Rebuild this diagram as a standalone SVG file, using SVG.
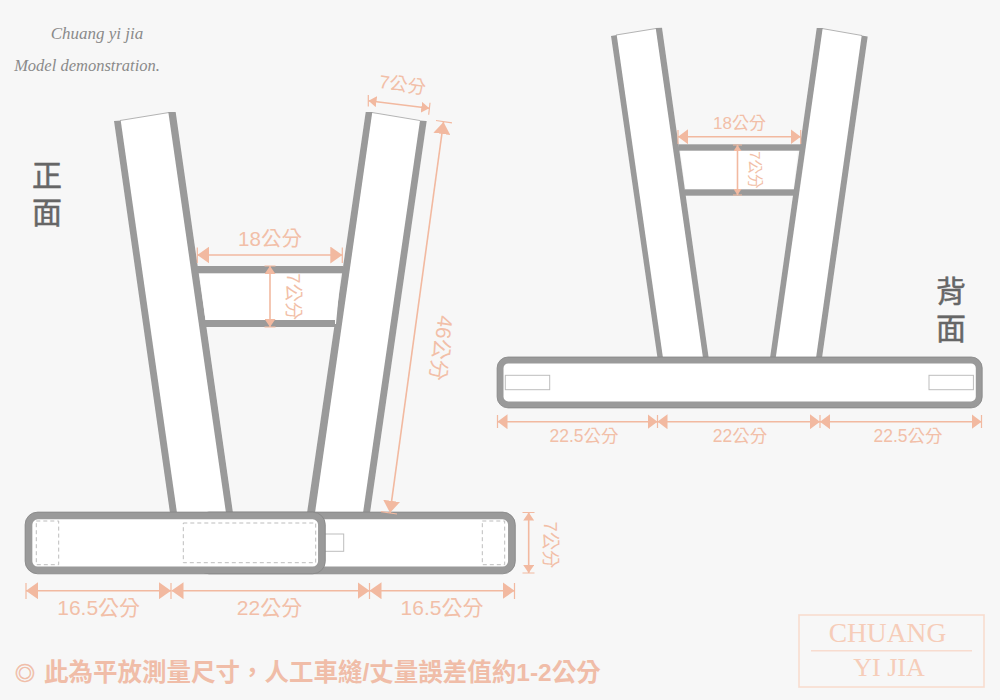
<svg xmlns="http://www.w3.org/2000/svg" width="1000" height="700" viewBox="0 0 1000 700">
<style>
.b{fill:#9a9a9a}
.w{fill:#fff}
.e{fill:none;stroke:#b4b4b4;stroke-width:1}
.belt{fill:#fff;stroke:#9a9a9a}
.edge{fill:none;stroke:#858585;stroke-width:.8}
.dash{fill:#fff;stroke:#bdbdbd;stroke-width:1;stroke-dasharray:4 3}
.slot{fill:#fff;stroke:#bdbdbd;stroke-width:1}
.d{fill:none;stroke:#f2b9a0;stroke-width:1.600}
.t{fill:none;stroke:#f2b9a0;stroke-width:1.200}
text{font-family:"Liberation Sans","Noto Sans CJK TC",sans-serif}
.l{fill:#f2bfa8;text-anchor:middle}
.side{fill:#666;stroke:#666;stroke-width:.5;font-size:30px;text-anchor:middle}
.script{fill:#8a8a8a;font-family:"Liberation Serif",serif;font-style:italic;text-anchor:middle}
.logo{fill:#f6cdb9;font-family:"Liberation Serif",serif;text-anchor:middle}
</style>
<defs>
<marker id="aL" markerUnits="userSpaceOnUse" markerWidth="12" markerHeight="17" refX="12" refY="8.500" orient="auto-start-reverse"><path d="M0 0L12 8.500L0 17Z" fill="#f2b9a0"/></marker>
<marker id="aM" markerUnits="userSpaceOnUse" markerWidth="10" markerHeight="15" refX="10" refY="7.500" orient="auto-start-reverse"><path d="M0 0L10 7.500L0 15Z" fill="#f2b9a0"/></marker>
<marker id="aS" markerUnits="userSpaceOnUse" markerWidth="8" markerHeight="11" refX="8" refY="5.500" orient="auto-start-reverse"><path d="M0 0L8 5.500L0 11Z" fill="#f2b9a0"/></marker>
<marker id="aT" markerUnits="userSpaceOnUse" markerWidth="6" markerHeight="8" refX="6" refY="4" orient="auto-start-reverse"><path d="M0 0L6 4L0 8Z" fill="#f2b9a0"/></marker>
</defs>
<rect width="1000" height="700" fill="#f7f7f7"/>

<g id="front-strap-left">
<path class="w" d="M114 121L176 112L233 513L171 513Z"/>
<path class="e" d="M120 120.500L169 112.500"/>
<path class="b" d="M114 121L120.700 120.500L177 513L170 513Z"/>
<path class="b" d="M168.300 112L175.700 112L233 513L226 513Z"/>
</g>
<g id="front-strap-right">
<path class="w" d="M365.700 112L426.700 120.500L370 513L307 513Z"/>
<path class="e" d="M372 112.500L420 120.500"/>
<path class="b" d="M365.700 112L372.300 112L315 513L307 513Z"/>
<path class="b" d="M420 120.500L426.700 121L370 513L363 513Z"/>
</g>
<g id="front-bridge">
<path class="w" d="M199 270L341 270L336 324L206 324Z"/>
<rect class="b" x="197" y="266" width="146" height="7.300"/>
<rect class="b" x="205" y="320" width="130" height="7"/>
</g>
<g id="front-belt-back">
<rect class="belt" x="200" y="515.700" width="311.700" height="54.500" rx="9" stroke-width="7.300"/>
<rect class="edge" x="196.400" y="512.100" width="318.900" height="61.700" rx="12.600"/>
<rect class="dash" x="482.300" y="521" width="22.400" height="43.700"/>
<rect class="slot" x="320" y="534" width="23.700" height="17.300"/>
</g>
<g id="front-belt-front">
<rect class="belt" x="28.700" y="515.700" width="293" height="54.500" rx="9" stroke-width="7.300"/>
<rect class="edge" x="25.100" y="512.100" width="300.200" height="61.700" rx="12.600"/>
<rect class="dash" x="36.300" y="521" width="22.400" height="43.700"/>
<rect class="dash" x="183.300" y="523" width="132.400" height="39.700"/>
</g>

<g id="back-strap-left">
<path class="w" d="M611 36L662 28L708.500 358L658 358Z"/>
<path class="e" d="M616 35L656 28.500"/>
<path class="b" d="M611 36L616.700 35L663 358L657.500 358Z"/>
<path class="b" d="M655.700 28L662 27.700L708.700 358L703 358Z"/>
</g>
<g id="back-strap-right">
<path class="w" d="M816.700 28L867.700 36L822 358L770 358Z"/>
<path class="e" d="M822 28.500L862 35.500"/>
<path class="b" d="M816.700 28L822.700 28L775.700 358L770 358Z"/>
<path class="b" d="M861.700 35.500L867.700 36.500L822 358L816 358Z"/>
</g>
<g id="back-bridge">
<path class="w" d="M680 148L798 148L793 192L686 192Z"/>
<rect class="b" x="678.300" y="144.300" width="122.400" height="6.400"/>
<rect class="b" x="685" y="189.300" width="109" height="6.400"/>
</g>
<g id="back-belt">
<rect class="belt" x="500.300" y="360.200" width="478.700" height="44.500" rx="8" stroke-width="6.400"/>
<rect class="edge" x="497.100" y="357" width="485.100" height="50.900" rx="11"/>
<rect class="slot" x="505.300" y="375.300" width="44.400" height="14.400"/>
<rect class="slot" x="929" y="375.300" width="44.400" height="14.400"/>
</g>

<g id="connectors">
<path class="d" d="M26 590.700H171" marker-start="url(#aL)" marker-end="url(#aL)"/>
<path class="d" d="M171.500 590.700H369.500" marker-start="url(#aL)" marker-end="url(#aL)"/>
<path class="d" d="M369.500 590.700H514.500" marker-start="url(#aL)" marker-end="url(#aL)"/>
<path class="t" d="M26 583V599M171 583V599M369.500 583V599M514.500 583V599"/>
<path class="d" d="M528.700 512.500V573" marker-start="url(#aS)" marker-end="url(#aS)"/>
<path class="t" d="M522.500 512.500H534.500M522.500 573H534.500"/>
<path class="d" d="M443.500 122L390 512.800" marker-start="url(#aL)" marker-end="url(#aL)"/>
<path class="t" d="M436 120.500L452 122.800M381 511.700L397 514"/>
<path class="d" d="M368.500 100.700L429.300 108.300" marker-start="url(#aS)" marker-end="url(#aS)"/>
<path class="t" d="M368.300 95L368.300 106.500M430 102.700L428.700 114.700"/>
<path class="d" d="M197.300 255H342.300" marker-start="url(#aL)" marker-end="url(#aL)"/>
<path class="t" d="M197.300 247.500V263M342.300 247.500V263"/>
<path class="d" d="M270 266V327" marker-start="url(#aS)" marker-end="url(#aS)"/>
<path class="t" d="M264.500 266H275.500M264.500 327H275.500"/>
<path class="d" d="M678 136.700H800.700" marker-start="url(#aM)" marker-end="url(#aM)"/>
<path class="t" d="M678 130V144M800.700 130V144"/>
<path class="d" d="M737.500 145V195" marker-start="url(#aT)" marker-end="url(#aT)"/>
<path class="t" d="M733 145H742M733 195H742"/>
<path class="d" d="M497.500 421.700H657.500" marker-start="url(#aM)" marker-end="url(#aM)"/>
<path class="d" d="M657.500 421.700H820" marker-start="url(#aM)" marker-end="url(#aM)"/>
<path class="d" d="M820 421.700H981.500" marker-start="url(#aM)" marker-end="url(#aM)"/>
<path class="t" d="M497.500 415V428M657.500 415V428M820 415V428M981.500 415V428"/>
</g>

<g id="labels">
<text class="l" font-size="21" x="98.700" y="615">16.5公分</text>
<text class="l" font-size="21" x="269.500" y="615">22公分</text>
<text class="l" font-size="21" x="442" y="615">16.5公分</text>
<text class="l" font-size="20.500" x="270" y="246">18公分</text>
<text class="l" font-size="18.400" transform="translate(287 296.700) rotate(90)">7公分</text>
<text class="l" font-size="18.400" transform="translate(402.500 85) rotate(8) translate(0 6)">7公分</text>
<text class="l" font-size="21" transform="translate(441 348) rotate(97.700) translate(0 7)">46公分</text>
<text class="l" font-size="18.400" transform="translate(543.500 545) rotate(90)">7公分</text>
<text class="l" font-size="17" x="739.500" y="129">18公分</text>
<text class="l" font-size="14.600" transform="translate(750 170) rotate(90)">7公分</text>
<text class="l" font-size="17.500" x="584" y="442">22.5公分</text>
<text class="l" font-size="17.500" x="740" y="442">22公分</text>
<text class="l" font-size="17.500" x="908" y="442">22.5公分</text>
<text class="side" x="47" y="186">正</text>
<text class="side" x="47" y="223">面</text>
<text class="side" x="951" y="302">背</text>
<text class="side" x="951" y="339">面</text>
<text class="script" font-size="17" x="97" y="39">Chuang yi jia</text>
<text class="script" font-size="16.500" x="87" y="71">Model demonstration.</text>
<text y="681" font-weight="bold" fill="#f0bda8"><tspan x="15" font-size="20" stroke="#f0bda8" stroke-width=".5">◎</tspan><tspan x="44" font-size="24.500">此為平放測量尺寸，人工車縫/丈量誤差值約1-2公分</tspan></text>
</g>

<g id="logo">
<rect x="799" y="615" width="185" height="72" fill="none" stroke="#f8dccf" stroke-width="1.600"/>
<path d="M811 650.700H972" stroke="#f8dccf" stroke-width="1.400"/>
<text class="logo" font-size="27.500" x="887.500" y="642">CHUANG</text>
<text class="logo" font-size="26" x="889" y="676">YI JIA</text>
</g>
</svg>
